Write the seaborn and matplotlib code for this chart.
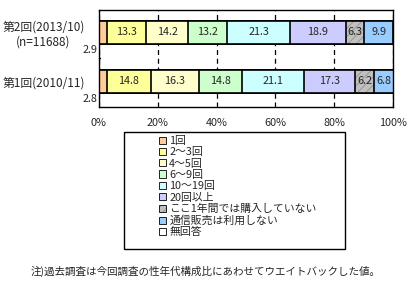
import numpy as np
import pandas as pd
import matplotlib
matplotlib.use("Agg")
import matplotlib.pyplot as plt
from matplotlib.patches import Patch, Rectangle
from matplotlib.colors import to_rgba
import seaborn as sns

rounds = ["第2回(2013/10)\n(n=11688)", "第1回(2010/11)"]
categories = ["1回", "2～3回", "4～5回", "6～9回", "10～19回", "20回以上",
              "ここ1年間では購入していない", "通信販売は利用しない", "無回答"]
values_r2 = [2.9, 13.3, 14.2, 13.2, 21.3, 18.9, 6.3, 9.9, 0.0]
values_r1 = [2.8, 14.8, 16.3, 14.8, 21.1, 17.3, 6.2, 6.8, 0.1]
colors = ["#FFCC99", "#FFFF99", "#FFFFCC", "#CCFFCC", "#CCFFFF", "#CCCCFF",
          "#C0C0C0", "#99CCFF", "#FFFFFF"]
hatches = ["", "", "", "", "", "", "////", "", ""]
xticks = [0, 20, 40, 60, 80, 100]
xticklabels = ["0%", "20%", "40%", "60%", "80%", "100%"]
footnote = "注)過去調査は今回調査の性年代構成比にあわせてウエイトバックした値。"

sns.set_style("white")
plt.rcParams["font.family"] = ["Noto Sans CJK JP", "DejaVu Sans"]
plt.rcParams["hatch.linewidth"] = 0.5

vals = np.array([values_r2, values_r1])
cum = np.cumsum(vals, axis=1)

fig = plt.figure(figsize=(4.16, 2.88), dpi=100)
ax = fig.add_axes([98.7 / 416, 1 - 107.3 / 288, (393.3 - 98.7) / 416, (107.3 - 9.7) / 288])

ax.set_axisbelow(True)
ax.xaxis.grid(True, linestyle=(0, (4, 3)), color="black", linewidth=0.9)

hatch_col = to_rgba("#8a8a8a")
for i in reversed(range(len(categories))):
    df = pd.DataFrame({"round": rounds, "value": cum[:, i]})
    n_before = len(ax.patches)
    sns.barplot(data=df, x="value", y="round", orient="h", color=colors[i],
                saturation=1, width=0.47, edgecolor="black", linewidth=1.2,
                hatch=hatches[i] if hatches[i] else None, ax=ax, zorder=2)
    if hatches[i]:
        for p in ax.patches[n_before:]:
            p._hatch_color = hatch_col

# segment labels
for r in range(len(rounds)):
    for i in range(1, len(categories) - 1):
        left = cum[r, i] - vals[r, i]
        ax.text(left + vals[r, i] / 2, r, f"{vals[r, i]:.1f}", ha="center",
                va="center", fontsize=7.8, zorder=5)
    ax.text(-0.3, r + 0.36, f"{vals[r, 0]:.1f}", ha="right", va="center",
            fontsize=7.8, clip_on=False)

ax.set_xlim(0, 100)
ax.set_ylim(1.527, -0.465)
ax.set_xticks(xticks)
ax.set_xticklabels(xticklabels, fontsize=7.8)
ax.tick_params(axis="x", length=0, pad=8)
ax.set_yticks([0, 0.53, 1])
ax.set_yticklabels([rounds[0], "", rounds[1]], fontsize=8.5, multialignment="center")
ax.tick_params(axis="y", length=0, pad=10)
ax.plot([0, 0.6], [0.53, 0.53], color="black", linewidth=1, clip_on=False, zorder=6)
ax.set_xlabel("")
ax.set_ylabel("")
for s in ax.spines.values():
    s.set_visible(True)
    s.set_color("black")
    s.set_linewidth(1)

# legend frame
fig.patches.append(Rectangle((124 / 416, 1 - 249 / 288), (345 - 124) / 416, (249 - 132) / 288,
                             transform=fig.transFigure, fill=False, edgecolor="black",
                             linewidth=1))
handles = []
for c, h in zip(colors, hatches):
    hp = Patch(facecolor=c, edgecolor="black", linewidth=0.6, hatch=h if h else None)
    if h:
        hp._hatch_color = hatch_col
    handles.append(hp)
fig.legend(handles, categories, loc="upper left", bbox_to_anchor=(159 / 416, 1 - 136 / 288),
           frameon=False, fontsize=7.8, handlelength=0.65, handleheight=0.65,
           handletextpad=0.3, labelspacing=0.12, borderpad=0, borderaxespad=0)

fig.text(206 / 416, 1 - 271 / 288, footnote, ha="center", va="center", fontsize=7.6)

fig.savefig("out.png", dpi=100, facecolor="white")
